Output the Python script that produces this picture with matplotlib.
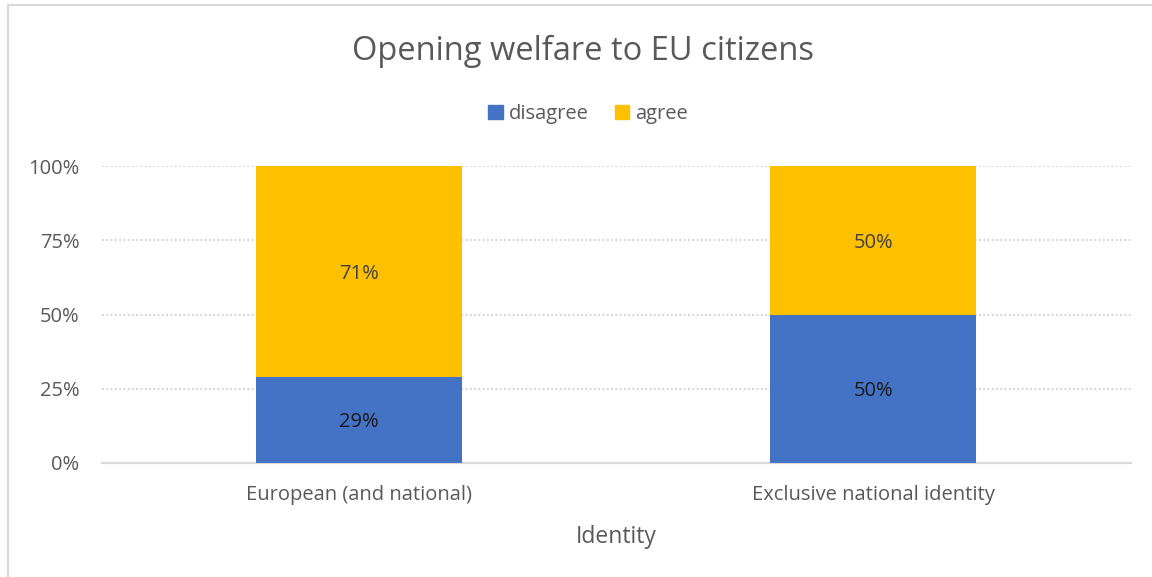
import matplotlib
matplotlib.use("Agg")
import matplotlib.pyplot as plt
from matplotlib.patches import Rectangle
from matplotlib.lines import Line2D
from matplotlib.ticker import FixedLocator, FuncFormatter

categories = ["European (and national)", "Exclusive national identity"]
disagree = [29, 50]
agree = [71, 50]
series_names = ["disagree", "agree"]
yticks = [0, 25, 50, 75, 100]

BLUE = "#4472C4"
GOLD = "#FFC000"
TEXT = "#595959"
GRID = "#D9D9D9"

plt.rcParams["font.family"] = ["Open Sans", "DejaVu Sans"]

W, H = 1152, 577
fig = plt.figure(figsize=(W / 100, H / 100), dpi=100)
fig.patch.set_facecolor("white")

# chart-area frame (top and left edges)
fig.add_artist(Line2D([8 / W, 8 / W], [0, 1 - 5 / H], color="#D9D9D9", lw=1.5,
                      transform=fig.transFigure))
fig.add_artist(Line2D([8 / W, 1], [1 - 5 / H, 1 - 5 / H], color="#D9D9D9", lw=1.5,
                      transform=fig.transFigure))

left, right = 101.5 / W, 1130.5 / W
bottom, top = 1 - 463 / H, 1 - 166 / H
ax = fig.add_axes([left, bottom, right - left, top - bottom])

x = list(range(len(categories)))
width = 0.4
ax.bar(x, disagree, width, color=BLUE, zorder=3, label=series_names[0])
ax.bar(x, agree, width, bottom=disagree, color=GOLD, zorder=3, label=series_names[1])

for i in x:
    ax.text(i, disagree[i] / 2, f"{disagree[i]}%", ha="center", va="center_baseline",
            fontsize=14.5, color="#1a1a1a", zorder=4)
    ax.text(i, disagree[i] + agree[i] / 2, f"{agree[i]}%", ha="center",
            va="center_baseline", fontsize=14.5, color="#404040", zorder=4)

ax.set_xlim(-0.5, 1.5)
ax.set_ylim(0, 100)
ax.yaxis.set_major_locator(FixedLocator(yticks))
ax.yaxis.set_major_formatter(FuncFormatter(lambda v, p: f"{int(v)}%"))
ax.set_xticks(x)
ax.set_xticklabels(categories, fontsize=14.5, color=TEXT)
ax.tick_params(axis="x", length=0, pad=16)
ax.tick_params(axis="y", length=0, pad=16, labelsize=14.5, labelcolor=TEXT)

for v in yticks[1:]:
    ax.axhline(v, color="#C8C8C8", lw=1.1, ls=(0, (1.2, 1.6)), zorder=1)

for s in ["top", "right", "left"]:
    ax.spines[s].set_visible(False)
ax.spines["bottom"].set_color(GRID)
ax.spines["bottom"].set_linewidth(1.6)

ax.set_xlabel("Identity", fontsize=16.5, color=TEXT, labelpad=14)

fig.text(583 / W, 1 - 51 / H, "Opening welfare to EU citizens", ha="center", va="center",
         fontsize=23.5, color=TEXT)

handles = [Rectangle((0, 0), 1, 1, color=BLUE), Rectangle((0, 0), 1, 1, color=GOLD)]
fig.legend(handles, series_names, loc="center", bbox_to_anchor=(588 / W, 1 - 114 / H),
           ncol=2, frameon=False, fontsize=14.5, labelcolor=TEXT, handlelength=0.7,
           handleheight=0.7, handletextpad=0.3, columnspacing=1.3)

fig.savefig("out.png", dpi=100, facecolor="white")
